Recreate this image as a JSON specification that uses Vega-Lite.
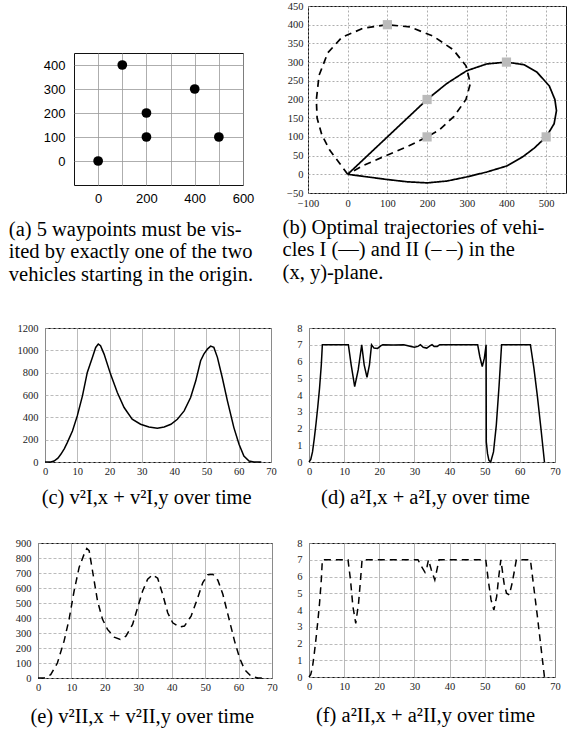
{
 "$schema": "https://vega.github.io/schema/vega-lite/v6.json",
 "padding": {"left": 0, "top": 0, "right": 0, "bottom": 0},
 "background": "white",
 "spacing": 37,
 "datasets": {
  "waypoints": [{"x":0,"y":0},{"x":100,"y":400},{"x":200,"y":200},{"x":200,"y":100},{"x":400,"y":300},{"x":500,"y":100}],
  "traj": [
   {"veh":"I","i":0,"x":0,"y":0},{"veh":"I","i":1,"x":100,"y":100},{"veh":"I","i":2,"x":200,"y":200},{"veh":"I","i":3,"x":250,"y":243},{"veh":"I","i":4,"x":300,"y":277},{"veh":"I","i":5,"x":350,"y":295},{"veh":"I","i":6,"x":400,"y":300},{"veh":"I","i":7,"x":444,"y":293},{"veh":"I","i":8,"x":477,"y":273},{"veh":"I","i":9,"x":508,"y":236},{"veh":"I","i":10,"x":522,"y":200},{"veh":"I","i":11,"x":526,"y":170},{"veh":"I","i":12,"x":520,"y":135},{"veh":"I","i":13,"x":500,"y":100},{"veh":"I","i":14,"x":470,"y":70},{"veh":"I","i":15,"x":440,"y":46},{"veh":"I","i":16,"x":400,"y":22},{"veh":"I","i":17,"x":350,"y":6},{"veh":"I","i":18,"x":300,"y":-7},{"veh":"I","i":19,"x":250,"y":-18},{"veh":"I","i":20,"x":200,"y":-23},{"veh":"I","i":21,"x":150,"y":-20},{"veh":"I","i":22,"x":100,"y":-14},{"veh":"I","i":23,"x":50,"y":-7},{"veh":"I","i":24,"x":0,"y":0},
   {"veh":"II","i":0,"x":0,"y":0},{"veh":"II","i":1,"x":-20,"y":29},{"veh":"II","i":2,"x":-45,"y":64},{"veh":"II","i":3,"x":-65,"y":105},{"veh":"II","i":4,"x":-77,"y":150},{"veh":"II","i":5,"x":-79,"y":199},{"veh":"II","i":6,"x":-72,"y":265},{"veh":"II","i":7,"x":-50,"y":325},{"veh":"II","i":8,"x":-15,"y":366},{"veh":"II","i":9,"x":40,"y":391},{"veh":"II","i":10,"x":100,"y":400},{"veh":"II","i":11,"x":157,"y":394},{"veh":"II","i":12,"x":216,"y":369},{"veh":"II","i":13,"x":266,"y":333},{"veh":"II","i":14,"x":298,"y":290},{"veh":"II","i":15,"x":309,"y":243},{"veh":"II","i":16,"x":298,"y":200},{"veh":"II","i":17,"x":268,"y":155},{"veh":"II","i":18,"x":230,"y":118},{"veh":"II","i":19,"x":200,"y":100},{"veh":"II","i":20,"x":150,"y":74},{"veh":"II","i":21,"x":90,"y":47},{"veh":"II","i":22,"x":40,"y":24},{"veh":"II","i":23,"x":0,"y":0}
  ],
  "vI": [
   {"t":0,"v":0},{"t":1.8,"v":0},{"t":2.8,"v":9},{"t":4,"v":35},{"t":4.9,"v":69},{"t":6,"v":120},{"t":6.9,"v":174},{"t":8.5,"v":278},{"t":10,"v":413},{"t":11.6,"v":592},{"t":13.1,"v":802},{"t":14.7,"v":937},{"t":15.7,"v":1026},{"t":16.5,"v":1056},{"t":17.2,"v":1041},{"t":18.3,"v":966},{"t":20.3,"v":787},{"t":22.4,"v":622},{"t":24.5,"v":488},{"t":27,"v":383},{"t":29.6,"v":338},{"t":32.2,"v":314},{"t":34.8,"v":302},{"t":36.9,"v":314},{"t":39,"v":338},{"t":41,"v":383},{"t":43.1,"v":458},{"t":45.1,"v":578},{"t":46.7,"v":727},{"t":48.2,"v":907},{"t":49.2,"v":966},{"t":50.3,"v":1011},{"t":51.3,"v":1038},{"t":52.3,"v":1026},{"t":53.4,"v":937},{"t":54.9,"v":757},{"t":56.5,"v":548},{"t":58.5,"v":308},{"t":60.1,"v":159},{"t":61.6,"v":54},{"t":63.2,"v":9},{"t":64.7,"v":0},{"t":67,"v":0}
  ],
  "aI": [
   {"t":0,"a":0},{"t":0.5,"a":0.15},{"t":1,"a":0.6},{"t":1.5,"a":1.4},{"t":2,"a":2.3},{"t":2.5,"a":3.3},{"t":3,"a":4.4},{"t":3.5,"a":5.8},{"t":3.8,"a":7},{"t":11.2,"a":7},{"t":12,"a":5.8},{"t":13,"a":4.5},{"t":14,"a":5.5},{"t":15,"a":7},{"t":15.7,"a":5.8},{"t":16.5,"a":5.05},{"t":17.2,"a":5.8},{"t":17.8,"a":7},{"t":18.5,"a":6.8},{"t":19.5,"a":6.78},{"t":20.5,"a":6.95},{"t":21,"a":7},{"t":24,"a":6.98},{"t":27,"a":7},{"t":29,"a":6.9},{"t":30,"a":6.85},{"t":31,"a":6.9},{"t":31.7,"a":7},{"t":32.5,"a":6.85},{"t":33.5,"a":6.8},{"t":34.5,"a":6.95},{"t":35,"a":7},{"t":35.6,"a":6.9},{"t":36.5,"a":6.9},{"t":37.2,"a":7},{"t":48,"a":7},{"t":48.6,"a":6.3},{"t":49.3,"a":5.7},{"t":49.9,"a":6.2},{"t":50.4,"a":7},{"t":50.45,"a":1.2},{"t":50.8,"a":0.5},{"t":51.2,"a":0.1},{"t":51.7,"a":0},{"t":52.5,"a":0.6},{"t":53.3,"a":2.2},{"t":54.1,"a":4.6},{"t":54.8,"a":7},{"t":63,"a":7},{"t":64,"a":5.6},{"t":65,"a":3.9},{"t":66,"a":2},{"t":66.5,"a":1},{"t":67,"a":0}
  ],
  "vII": [
   {"t":0,"v":0},{"t":1.8,"v":0},{"t":3.8,"v":22},{"t":5.8,"v":100},{"t":7.8,"v":246},{"t":9.3,"v":391},{"t":10.8,"v":580},{"t":12.3,"v":737},{"t":13.8,"v":826},{"t":14.6,"v":864},{"t":15.3,"v":849},{"t":16.3,"v":715},{"t":17.8,"v":514},{"t":19.3,"v":391},{"t":20.8,"v":324},{"t":22.8,"v":272},{"t":24.6,"v":257},{"t":26.3,"v":279},{"t":28.3,"v":357},{"t":29.8,"v":469},{"t":31.3,"v":580},{"t":32.8,"v":659},{"t":34.3,"v":688},{"t":35.8,"v":665},{"t":37.3,"v":558},{"t":38.8,"v":435},{"t":40.3,"v":368},{"t":42.3,"v":339},{"t":43.8,"v":346},{"t":45.8,"v":413},{"t":47.8,"v":536},{"t":49.3,"v":636},{"t":50.8,"v":688},{"t":52.3,"v":692},{"t":53.8,"v":652},{"t":55.3,"v":558},{"t":57.3,"v":380},{"t":58.8,"v":246},{"t":60.3,"v":134},{"t":61.8,"v":56},{"t":63.8,"v":11},{"t":65.8,"v":0},{"t":67.3,"v":0}
  ],
  "aII": [
   {"t":0,"a":0},{"t":0.5,"a":0.15},{"t":1,"a":0.6},{"t":1.5,"a":1.4},{"t":2,"a":2.3},{"t":2.5,"a":3.3},{"t":3,"a":4.4},{"t":3.5,"a":5.8},{"t":3.8,"a":7},{"t":11.1,"a":7},{"t":11.8,"a":5.8},{"t":12.5,"a":4.2},{"t":13.3,"a":3.2},{"t":14.1,"a":4.4},{"t":14.7,"a":5.9},{"t":15.1,"a":7},{"t":31,"a":7},{"t":32,"a":6.6},{"t":33,"a":6.25},{"t":33.6,"a":6.6},{"t":34,"a":7},{"t":34.8,"a":6.4},{"t":35.8,"a":5.8},{"t":36.5,"a":6.5},{"t":37,"a":7},{"t":50.3,"a":7},{"t":51,"a":5.8},{"t":51.8,"a":4.6},{"t":52.6,"a":4.0},{"t":53.4,"a":4.8},{"t":54,"a":6.0},{"t":54.6,"a":7},{"t":55.5,"a":5.6},{"t":56.2,"a":5},{"t":57,"a":4.9},{"t":57.8,"a":5.6},{"t":58.5,"a":6.4},{"t":59,"a":7},{"t":63,"a":7},{"t":64,"a":5.3},{"t":65,"a":3.6},{"t":66,"a":1.8},{"t":66.5,"a":0.9},{"t":67,"a":0}
  ]
 },
 "config": {
  "view": {"stroke": "#111", "strokeWidth": 1},
  "axis": {"domain": false, "ticks": false, "labelFont": "Liberation Serif", "labelFontSize": 10.5, "labelColor": "#222", "labelPadding": 7, "labelFlush": false, "labelOverlap": false, "gridColor": "#aaa", "gridWidth": 0.8, "format": "d"},
  "axisX": {"labelPadding": 4},
  "title": {"font": "Liberation Serif", "fontSize": 20.5, "fontWeight": "normal", "color": "black", "lineHeight": 22.5}
 },
 "vconcat": [
  {
   "hconcat": [
    {"width": 8, "height": 1, "data": {"values": []}, "mark": "point", "view": {"stroke": null}},
    {
     "hconcat": [
      {
       "vconcat": [
        {"width": 169, "height": 46, "data": {"values": []}, "mark": "point", "view": {"stroke": null}},
        {
         "width": 169, "height": 132,
         "data": {"name": "waypoints"},
         "mark": {"type": "point", "filled": true, "color": "black", "size": 95, "opacity": 1},
         "encoding": {
          "x": {"field": "x", "type": "quantitative", "title": null, "scale": {"domain": [-100, 600], "nice": false, "zero": false},
                "axis": {"values": [0, 100, 200, 300, 400, 500, 600], "labelExpr": "datum.value % 200 == 0 ? datum.label : ''", "labelFont": "Liberation Sans", "labelFontSize": 13, "labelColor": "black", "labelPadding": 7, "gridColor": "#999", "labelOverlap": false}},
          "y": {"field": "y", "type": "quantitative", "title": null, "scale": {"domain": [-100, 450], "nice": false, "zero": false},
                "axis": {"values": [0, 100, 200, 300, 400], "labelFont": "Liberation Sans", "labelFontSize": 13, "labelColor": "black", "labelPadding": 9, "gridColor": "#999", "labelOverlap": false}}
         }
        }
       ],
       "spacing": 0,
       "title": {"text": ["(a) 5 waypoints must be vis-", "ited by exactly one of the two", "vehicles starting in the origin."], "orient": "bottom", "anchor": "start", "frame": "bounds", "dx": -34, "offset": 14}
      },
      {
       "width": 258, "height": 187,
       "title": {"text": ["(b) Optimal trajectories of vehi-", "cles I (—) and II (– –) in the", "(x, y)-plane."], "orient": "bottom", "anchor": "start", "frame": "bounds", "dx": -4, "offset": 9},
       "layer": [
        {
         "data": {"name": "traj"},
         "mark": {"type": "line", "color": "black", "strokeWidth": 1.7},
         "encoding": {
          "x": {"field": "x", "type": "quantitative", "title": null, "scale": {"domain": [-100, 550], "nice": false, "zero": false},
                "axis": {"values": [-100, 0, 100, 200, 300, 400, 500], "gridDash": [2, 2], "gridColor": "#999", "labelOverlap": false, "labelPadding": 5}},
          "y": {"field": "y", "type": "quantitative", "title": null, "scale": {"domain": [-50, 450], "nice": false, "zero": false},
                "axis": {"values": [-50, 0, 50, 100, 150, 200, 250, 300, 350, 400, 450], "gridDash": [2, 2], "gridColor": "#999", "labelOverlap": false, "labelPadding": 5}},
          "order": {"field": "i", "type": "quantitative"},
          "detail": {"field": "veh"},
          "strokeDash": {"field": "veh", "type": "nominal", "scale": {"domain": ["I", "II"], "range": [[1, 0], [7, 5]]}, "legend": null}
         }
        },
        {
         "data": {"name": "waypoints"},
         "transform": [{"filter": "datum.x > 0 || datum.y > 0"}],
         "mark": {"type": "square", "filled": true, "color": "#bbbbbb", "size": 85, "opacity": 1},
         "encoding": {
          "x": {"field": "x", "type": "quantitative", "axis": {"values": [-100, 0, 100, 200, 300, 400, 500], "gridDash": [2, 2], "gridColor": "#999", "labelOverlap": false, "labelPadding": 5}},
          "y": {"field": "y", "type": "quantitative", "axis": {"values": [-50, 0, 50, 100, 150, 200, 250, 300, 350, 400, 450], "gridDash": [2, 2], "gridColor": "#999", "labelOverlap": false, "labelPadding": 5}}
         }
        }
       ]
      }
     ],
     "spacing": 27
    }
   ],
   "spacing": 0
  },
  {
   "vconcat": [
    {
     "hconcat": [
      {"width": 16, "height": 1, "data": {"values": []}, "mark": "point", "view": {"stroke": null}},
      {
       "hconcat": [
        {
         "width": 226, "height": 134,
         "data": {"name": "vI"},
         "mark": {"type": "line", "color": "black", "strokeWidth": 1.5},
         "encoding": {
          "x": {"field": "t", "type": "quantitative", "title": null, "scale": {"domain": [0, 70], "nice": false}, "axis": {"values": [0, 10, 20, 30, 40, 50, 60, 70]}},
          "y": {"field": "v", "type": "quantitative", "title": null, "scale": {"domain": [0, 1200], "nice": false}, "axis": {"values": [0, 200, 400, 600, 800, 1000, 1200], "gridDash": [3, 2]}}
         },
         "title": {"text": "(c)  v²I,x + v²I,y over time", "orient": "bottom", "anchor": "middle", "frame": "bounds", "offset": 11}
        },
        {
         "width": 246, "height": 134,
         "data": {"name": "aI"},
         "mark": {"type": "line", "color": "black", "strokeWidth": 1.5},
         "encoding": {
          "x": {"field": "t", "type": "quantitative", "title": null, "scale": {"domain": [0, 70], "nice": false}, "axis": {"values": [0, 10, 20, 30, 40, 50, 60, 70]}},
          "y": {"field": "a", "type": "quantitative", "title": null, "scale": {"domain": [0, 8], "nice": false}, "axis": {"values": [0, 1, 2, 3, 4, 5, 6, 7, 8], "gridDash": [3, 2]}}
         },
         "title": {"text": "(d)  a²I,x + a²I,y over time", "orient": "bottom", "anchor": "middle", "frame": "bounds", "dx": -3, "offset": 11}
        }
       ],
       "spacing": 19
      }
     ],
     "spacing": 0
    },
    {
     "hconcat": [
      {"width": 14, "height": 1, "data": {"values": []}, "mark": "point", "view": {"stroke": null}},
      {
       "hconcat": [
        {
         "width": 234, "height": 135,
         "data": {"name": "vII"},
         "mark": {"type": "line", "color": "black", "strokeWidth": 1.5, "strokeDash": [7, 5]},
         "encoding": {
          "x": {"field": "t", "type": "quantitative", "title": null, "scale": {"domain": [0, 70], "nice": false}, "axis": {"values": [0, 10, 20, 30, 40, 50, 60, 70]}},
          "y": {"field": "v", "type": "quantitative", "title": null, "scale": {"domain": [0, 900], "nice": false}, "axis": {"values": [0, 100, 200, 300, 400, 500, 600, 700, 800, 900], "gridDash": [3, 2]}}
         },
         "title": {"text": "(e)  v²II,x + v²II,y over time", "orient": "bottom", "anchor": "middle", "frame": "bounds", "dx": -4, "offset": 14}
        },
        {
         "width": 246, "height": 134,
         "data": {"name": "aII"},
         "mark": {"type": "line", "color": "black", "strokeWidth": 1.5, "strokeDash": [7, 5]},
         "encoding": {
          "x": {"field": "t", "type": "quantitative", "title": null, "scale": {"domain": [0, 70], "nice": false}, "axis": {"values": [0, 10, 20, 30, 40, 50, 60, 70]}},
          "y": {"field": "a", "type": "quantitative", "title": null, "scale": {"domain": [0, 8], "nice": false}, "axis": {"values": [0, 1, 2, 3, 4, 5, 6, 7, 8], "gridDash": [3, 2]}}
         },
         "title": {"text": "(f)  a²II,x + a²II,y over time", "orient": "bottom", "anchor": "middle", "frame": "bounds", "dx": -3, "offset": 14}
        }
       ],
       "spacing": 18
      }
     ],
     "spacing": 0
    }
   ],
   "spacing": 28
  }
 ]
}
